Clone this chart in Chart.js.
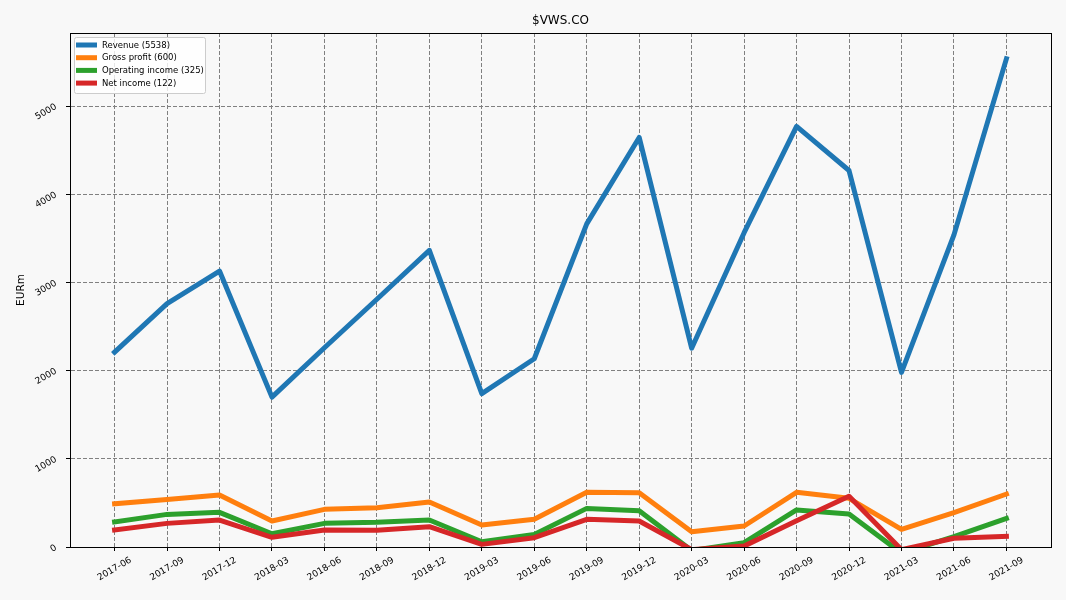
<!DOCTYPE html>
<html>
<head>
<meta charset="utf-8">
<script src="https://cdn.jsdelivr.net/npm/chart.js@4.4.0/dist/chart.umd.min.js"></script>
<style>
  html, body { margin: 0; padding: 0; background: #f8f8f8; }
  #wrap { width: 1066px; height: 600px; }
</style>
</head>
<body>
<div id="wrap"><canvas id="c" width="1066" height="600"></canvas></div>
<script>
const categories = ['2017-06','2017-09','2017-12','2018-03','2018-06','2018-09','2018-12','2019-03','2019-06','2019-09','2019-12','2020-03','2020-06','2020-09','2020-12','2021-03','2021-06','2021-09'];
const revenue = [2210, 2760, 3130, 1700, 2260, 2810, 3365, 1740, 2135, 3665, 4645, 2255, 3565, 4770, 4270, 1980, 3540, 5538];
const grossProfit = [490, 540, 590, 295, 427, 446, 510, 249, 314, 620, 616, 174, 238, 620, 552, 200, 389, 600];
const operatingIncome = [285, 370, 393, 150, 268, 280, 306, 60, 143, 438, 411, -40, 49, 420, 374, -70, 117, 325];
const netIncome = [193, 268, 306, 110, 193, 189, 230, 30, 106, 314, 295, -30, 10, 298, 575, -30, 99, 122];
const seriesNames = ['Revenue (5538)', 'Gross profit (600)', 'Operating income (325)', 'Net income (122)'];
const yTicks = [0, 1000, 2000, 3000, 4000, 5000];
const titleText = '$VWS.CO';
const yTitle = 'EURm';

const colors = ['#1f77b4', '#ff7f0e', '#2ca02c', '#d62728'];
const FONT = '"DejaVu Sans", sans-serif';

function pts(arr) { return arr.map((v, i) => ({ x: i, y: v })); }

const series = [revenue, grossProfit, operatingIncome, netIncome];
const datasets = series.map((s, k) => ({
  label: seriesNames[k],
  data: pts(s),
  borderColor: colors[k],
  backgroundColor: colors[k],
  borderWidth: 5,
  pointRadius: 0,
  pointHoverRadius: 0,
  tension: 0,
  fill: false,
  clip: 0,
  borderJoinStyle: 'round',
  borderCapStyle: 'square',
  order: 4 - k
}));

const bgPlugin = {
  id: 'bg',
  beforeDraw(chart) {
    const ctx = chart.ctx;
    ctx.save();
    ctx.fillStyle = '#f8f8f8';
    ctx.fillRect(0, 0, chart.width, chart.height);
    ctx.restore();
  }
};

const decorPlugin = {
  id: 'decor',
  afterDraw(chart) {
    const ctx = chart.ctx;
    const a = chart.chartArea;
    ctx.save();
    // frame
    ctx.strokeStyle = '#000';
    ctx.lineWidth = 1;
    ctx.setLineDash([]);
    ctx.strokeRect(Math.round(a.left) + 0.5, Math.round(a.top) + 0.5, Math.round(a.right - a.left), Math.round(a.bottom - a.top));
    // title
    ctx.fillStyle = '#000';
    ctx.font = '12px ' + FONT;
    ctx.textAlign = 'center';
    ctx.textBaseline = 'middle';
    ctx.fillText(titleText, (a.left + a.right) / 2, 20.5);
    // x tick labels
    const xs = chart.scales.x;
    ctx.font = '9px ' + FONT;
    categories.forEach((c, i) => {
      const px = xs.getPixelForValue(i);
      ctx.save();
      ctx.translate(px, a.bottom + 22);
      ctx.rotate(-Math.PI / 6);
      ctx.textAlign = 'center';
      ctx.textBaseline = 'middle';
      ctx.fillText(c, 0, 0);
      ctx.restore();
    });
    // legend
    const lx = 74, ly = 37, lw = 131, lh = 56;
    ctx.fillStyle = 'rgba(255,255,255,0.8)';
    ctx.strokeStyle = '#cccccc';
    ctx.lineWidth = 1;
    ctx.beginPath();
    if (ctx.roundRect) ctx.roundRect(lx + 0.5, ly + 0.5, lw, lh, 2); else ctx.rect(lx + 0.5, ly + 0.5, lw, lh);
    ctx.fill();
    ctx.stroke();
    ctx.font = '8.5px ' + FONT;
    ctx.textAlign = 'left';
    ctx.textBaseline = 'middle';
    chart.data.datasets.forEach((ds, k) => {
      const y = 45 + k * 12.7;
      ctx.strokeStyle = ds.borderColor;
      ctx.lineWidth = 5;
      ctx.lineCap = 'butt';
      ctx.beginPath();
      ctx.moveTo(76, y);
      ctx.lineTo(97, y);
      ctx.stroke();
      ctx.fillStyle = '#000';
      ctx.fillText(ds.label, 102, y + 0.5);
    });
    ctx.restore();
  }
};

const gridOpts = {
  color: '#808080',
  lineWidth: 1,
  drawTicks: true,
  tickLength: 4,
  tickColor: '#000',
  tickBorderDash: [],
  tickWidth: 1
};

new Chart(document.getElementById('c'), {
  type: 'line',
  data: { datasets },
  options: {
    responsive: false,
    animation: false,
    devicePixelRatio: 1,
    layout: { padding: { left: 0, top: 33, right: 15, bottom: 0 } },
    plugins: {
      legend: { display: false },
      title: { display: false },
      tooltip: { enabled: false }
    },
    scales: {
      x: {
        type: 'linear',
        min: -0.85,
        max: 17.85,
        afterBuildTicks(scale) { scale.ticks = categories.map((_, i) => ({ value: i })); },
        afterFit(scale) { scale.height = 53; },
        ticks: { display: false },
        grid: gridOpts,
        border: { display: true, color: '#000', width: 1, dash: [4, 2] }
      },
      y: {
        type: 'linear',
        min: 0,
        max: 5830,
        afterBuildTicks(scale) { scale.ticks = yTicks.map(v => ({ value: v })); },
        afterFit(scale) { scale.width = 70; },
        ticks: {
          color: '#000',
          font: { family: FONT, size: 9 },
          minRotation: 30,
          maxRotation: 30,
          padding: 10,
          callback: (v) => String(v)
        },
        title: {
          display: true,
          text: yTitle,
          color: '#000',
          font: { family: FONT, size: 10.5 },
          padding: { top: 15, bottom: 0 }
        },
        grid: gridOpts,
        border: { display: true, color: '#000', width: 1, dash: [4, 2] }
      }
    }
  },
  plugins: [bgPlugin, decorPlugin]
});
</script>
</body>
</html>
